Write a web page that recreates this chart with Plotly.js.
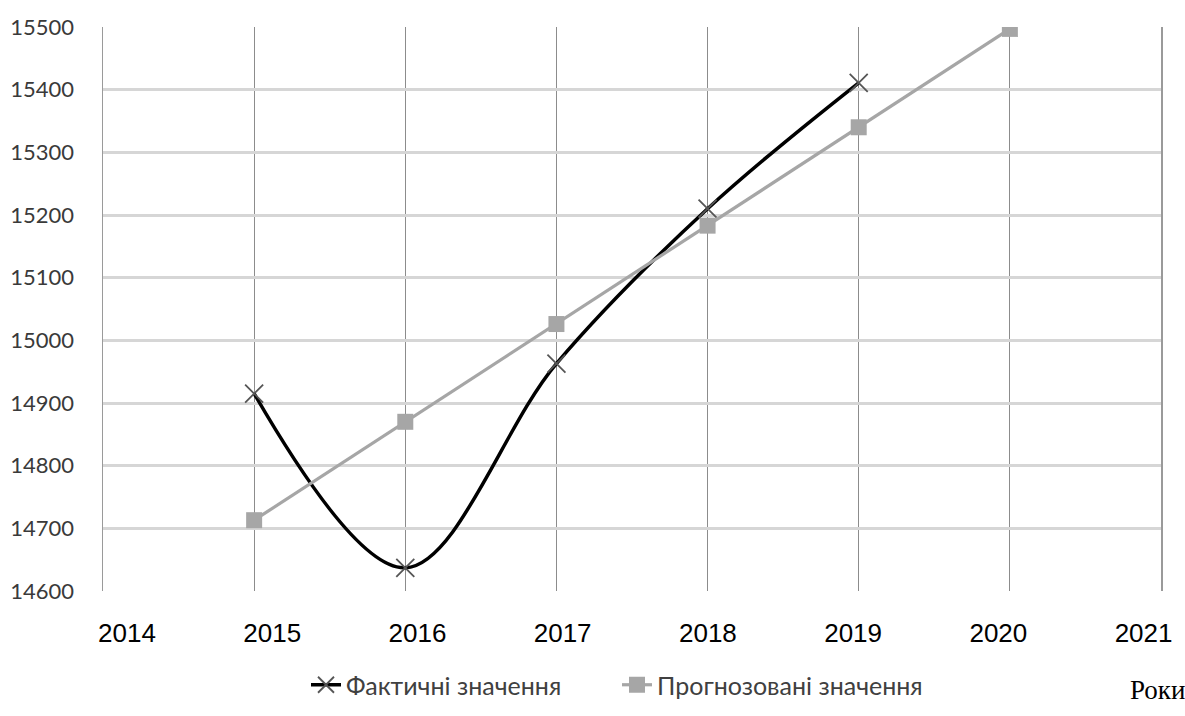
<!DOCTYPE html>
<html>
<head>
<meta charset="utf-8">
<script src="https://cdn.plot.ly/plotly-3.0.1.min.js"></script>
<style>
  html, body { margin: 0; padding: 0; background: #ffffff; }
  #chart { width: 1185px; height: 716px; }
</style>
</head>
<body>
<div id="chart"></div>
<script>
// Years on the horizontal axis
const years = [2015, 2016, 2017, 2018, 2019, 2020];
const tickYears = [2014, 2015, 2016, 2017, 2018, 2019, 2020, 2021];
const tickText = ['2014', '2015', '2016', '2017', '2018', '2019', '2020', '2021'];

// Actual values (2015–2019) and trend forecast (2015–2020)
const actualYears = [2015, 2016, 2017, 2018, 2019];
const actualValues = [14915, 14637, 14963, 15210, 15411];
const forecastValues = [14713, 14870, 15026, 15183, 15340, 15497];

const seriesNames = ['Фактичні значення', 'Прогнозовані значення'];

const labelFont = 'Lato, "Open Sans", sans-serif';

const traces = [
  {
    x: actualYears,
    y: actualValues,
    name: seriesNames[0],
    type: 'scatter',
    mode: 'lines+markers',
    line: { color: '#000000', width: 3.5, shape: 'spline', smoothing: 1 },
    marker: {
      symbol: 'x-thin-open',
      size: 18,
      color: '#555555',
      line: { color: '#555555', width: 1.8 }
    },
    xaxis: 'x',
    yaxis: 'y'
  },
  {
    x: years,
    y: forecastValues,
    name: seriesNames[1],
    type: 'scatter',
    mode: 'lines+markers',
    line: { color: '#a6a6a6', width: 3.2 },
    marker: { symbol: 'square', size: 16, color: '#a6a6a6' },
    xaxis: 'x',
    yaxis: 'y'
  }
];

const layout = {
  width: 1185,
  height: 716,
  margin: { l: 103, r: 24, t: 27, b: 125 },
  paper_bgcolor: '#ffffff',
  plot_bgcolor: '#ffffff',
  showlegend: true,
  xaxis: {
    range: [2014, 2021],
    dtick: 1,
    tick0: 2014,
    showgrid: true,
    gridcolor: '#8c8c8c',
    gridwidth: 1,
    showticklabels: false,
    zeroline: false,
    showline: false,
    ticks: ''
  },
  // Year labels, laid out on their own overlaid scale
  xaxis2: {
    overlaying: 'x',
    anchor: 'y',
    side: 'bottom',
    range: [2013.835, 2021.12],
    tickmode: 'array',
    tickvals: tickYears,
    ticktext: tickText,
    showgrid: false,
    zeroline: false,
    showline: false,
    ticks: '',
    ticklabelstandoff: 24,
    tickfont: { family: '"Liberation Sans", Arial, sans-serif', size: 26, color: '#000000' }
  },
  yaxis: {
    range: [14600, 15500],
    dtick: 100,
    tick0: 14600,
    tickformat: 'd',
    showgrid: true,
    gridcolor: '#d6d6d6',
    gridwidth: 3,
    zeroline: false,
    showline: true,
    mirror: true,
    linecolor: '#9a9a9a',
    linewidth: 1.5,
    ticks: '',
    ticklabelstandoff: 23,
    tickfont: { family: labelFont, size: 22, color: '#3a3a3a' }
  },
  legend: {
    orientation: 'h',
    xref: 'container',
    yref: 'container',
    x: 306 / 1185,
    xanchor: 'left',
    y: 1 - 685 / 716,
    yanchor: 'middle',
    font: { family: labelFont, size: 25, color: '#404040' },
    entrywidthmode: 'pixels',
    entrywidth: 266,
    bgcolor: 'rgba(0,0,0,0)'
  },
  annotations: [
    {
      text: 'Роки',
      xref: 'paper',
      yref: 'paper',
      x: (1128 - 103) / 1058,
      y: (591 - 690) / 564,
      xanchor: 'left',
      yanchor: 'middle',
      showarrow: false,
      font: { family: '"Liberation Serif", "Times New Roman", serif', size: 27, color: '#000000' }
    }
  ]
};

// Placeholder trace so the overlaid label axis is drawn
traces.push({
  x: [2014],
  y: [null],
  xaxis: 'x2',
  yaxis: 'y',
  showlegend: false,
  hoverinfo: 'skip',
  mode: 'markers'
});

Plotly.newPlot('chart', traces, layout, { displayModeBar: false, staticPlot: true });
</script>
</body>
</html>
